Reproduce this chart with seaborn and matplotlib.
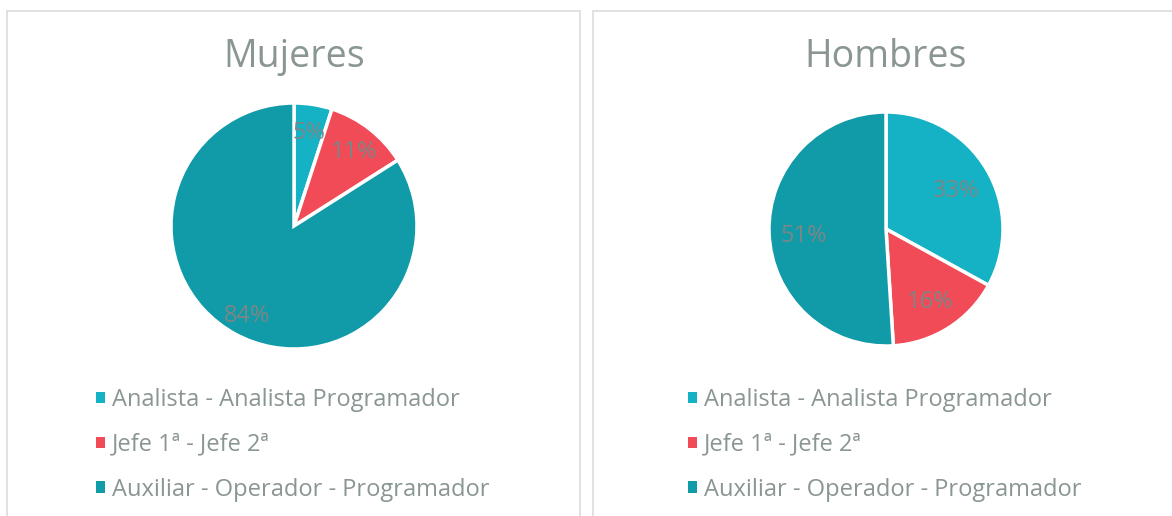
import matplotlib
matplotlib.use("Agg")
import matplotlib.pyplot as plt
import matplotlib.transforms as mtransforms
from matplotlib.patches import Rectangle
import seaborn as sns

# data
categorias = ["Analista - Analista Programador", "Jefe 1ª - Jefe 2ª", "Auxiliar - Operador - Programador"]
mujeres = [5, 11, 84]
hombres = [33, 16, 51]
titulos = ["Mujeres", "Hombres"]
colores = ["#14b2c4", "#f04b56", "#119aa8"]

sns.set_theme(style="white")
plt.rcParams["font.family"] = ["Open Sans", "DejaVu Sans"]

W, H = 1172, 516
fig = plt.figure(figsize=(W / 100, H / 100), dpi=100)
fig.patch.set_facecolor("white")

texto = "#8a9694"

# panel borders
for x0, x1 in [(7, 580), (593, 1180)]:
    fig.patches.append(Rectangle((x0 / W, -0.05), (x1 - x0) / W, (H - 11) / H + 0.05,
                                 transform=fig.transFigure, fill=False,
                                 edgecolor="#dcdcdc", linewidth=1.2))

# (cx, cy, r) in pixels, label distance, legend x
paneles = [(294, 226, 123, 0.8, 96), (886, 229, 117, 0.7, 688)]

for (cx, cy, r, pdist, lx), vals, titulo in zip(paneles, [mujeres, hombres], titulos):
    ax = fig.add_axes([(cx - r) / W, (H - cy - r) / H, 2 * r / W, 2 * r / H])
    wedges, _, autotexts = ax.pie(vals, colors=colores, startangle=90, counterclock=False,
                                  autopct="%d%%", pctdistance=pdist,
                                  wedgeprops=dict(edgecolor="white", linewidth=2.5),
                                  textprops=dict(color="#7d8686", fontsize=17))
    ax.set_xlim(-1, 1)
    ax.set_ylim(-1, 1)
    ax.set_aspect("equal")
    ax.axis("off")
    for w in wedges:
        w.set_clip_on(False)
    # nudge percent labels a few pixels down, like the original
    for t in autotexts:
        t.set_transform(mtransforms.offset_copy(ax.transData, fig=fig, x=0, y=-4, units="dots"))
    fig.text(cx / W, (H - 57) / H, titulo, ha="center", va="center",
             fontsize=27, color=texto)
    leg = fig.legend(wedges, categorias, loc="upper left",
                     bbox_to_anchor=(lx / W, (H - 388) / H), frameon=False,
                     fontsize=17, handlelength=0.38, handleheight=0.38,
                     handletextpad=0.3, labelspacing=0.88, borderpad=0, borderaxespad=0)
    for t in leg.get_texts():
        t.set_color(texto)
    for hnd in leg.legend_handles:
        hnd.set_edgecolor("none")

fig.savefig("out.png", dpi=100, facecolor="white")
